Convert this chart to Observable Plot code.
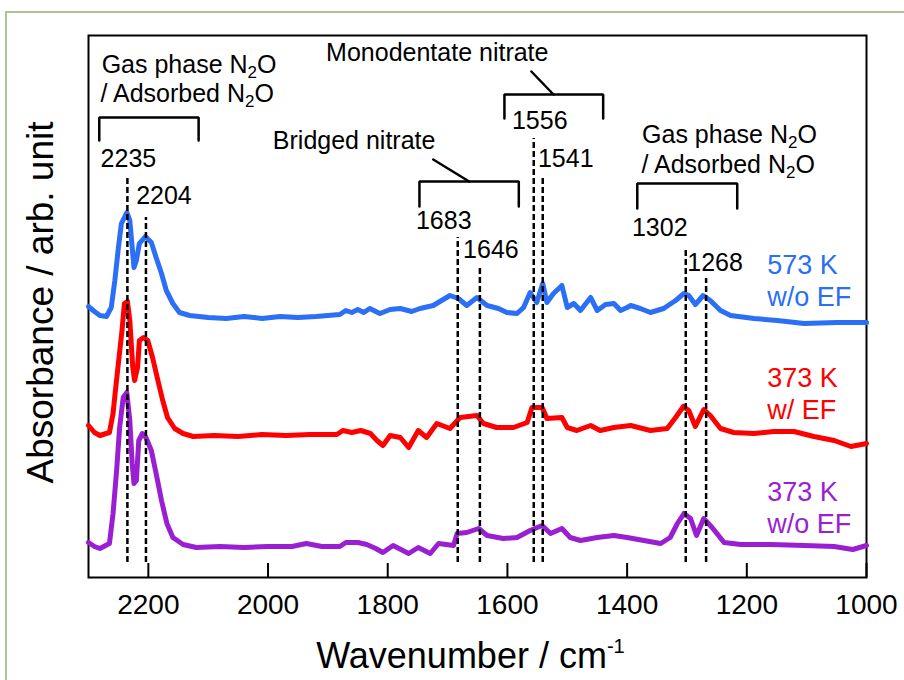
<!DOCTYPE html>
<html>
<head>
<meta charset="utf-8">
<script src="https://cdn.jsdelivr.net/npm/d3@7"></script>
<script src="https://cdn.jsdelivr.net/npm/@observablehq/plot@0.6"></script>
<style>
  body { margin: 0; background: #fff; }
  #wrap { position: relative; width: 904px; height: 680px; overflow: hidden; }
  #edge { position: absolute; left: 5px; top: 11px; right: -6px; bottom: -6px;
          border-top: 2px solid #a9c592; border-left: 2px solid #a9c592; }
  #wrap svg { position: absolute; left: 0; top: 0; }
</style>
</head>
<body>
<div id="wrap"><div id="edge"></div></div>
<script>
// ---- Spectra (wavenumber in cm-1, absorbance in arb. unit, stacked) ----
const wn573 = [2300,2290,2281,2270,2262,2256,2250,2245,2236,2231,2227,2224,2220,2215,2205,2195,2187,2178,2170,2159,2148,2131,2100,2070,2040,2010,1980,1950,1920,1900,1880,1870,1860,1850,1840,1830,1820,1813,1796,1779,1760,1746,1724,1710,1696,1682,1668,1651,1634,1615,1601,1584,1573,1562,1551,1541,1534,1523,1509,1500,1489,1478,1461,1450,1436,1422,1411,1400,1394,1378,1361,1339,1319,1305,1297,1286,1273,1261,1244,1227,1188,1149,1104,1049,1000];
const abs573 = [2.71,2.66,2.62,2.61,2.70,2.97,3.30,3.54,3.65,3.57,3.30,3.10,3.17,3.34,3.41,3.35,3.20,3.04,2.87,2.74,2.65,2.62,2.60,2.59,2.61,2.59,2.61,2.60,2.61,2.62,2.63,2.67,2.65,2.68,2.65,2.69,2.66,2.64,2.68,2.69,2.66,2.69,2.72,2.77,2.82,2.79,2.72,2.80,2.72,2.69,2.65,2.64,2.70,2.85,2.75,2.94,2.75,2.84,2.92,2.70,2.74,2.67,2.80,2.67,2.73,2.74,2.67,2.70,2.72,2.69,2.65,2.69,2.77,2.84,2.82,2.73,2.82,2.77,2.67,2.62,2.59,2.57,2.54,2.55,2.55];

const wn373EF = [2300,2290,2281,2265,2259,2255,2249,2244,2240,2235,2231,2226,2223,2218,2215,2208,2201,2193,2184,2176,2168,2156,2142,2125,2090,2050,2010,1970,1930,1885,1875,1860,1845,1829,1818,1808,1796,1779,1765,1749,1735,1718,1696,1679,1651,1640,1618,1590,1567,1559,1542,1534,1509,1500,1484,1461,1445,1422,1394,1361,1333,1319,1306,1297,1286,1272,1261,1244,1222,1188,1155,1121,1088,1054,1026,1000];
const abs373EF = [1.52,1.45,1.42,1.45,1.64,1.87,2.20,2.47,2.74,2.76,2.57,2.10,1.97,2.10,2.37,2.40,2.37,2.20,1.97,1.77,1.60,1.49,1.44,1.41,1.42,1.41,1.43,1.42,1.43,1.43,1.47,1.45,1.47,1.44,1.37,1.32,1.42,1.40,1.30,1.47,1.40,1.54,1.49,1.60,1.62,1.54,1.50,1.50,1.55,1.70,1.70,1.59,1.60,1.50,1.47,1.52,1.47,1.50,1.52,1.47,1.49,1.60,1.71,1.67,1.51,1.68,1.62,1.49,1.45,1.44,1.46,1.46,1.41,1.37,1.31,1.34];

const wn373 = [2300,2290,2281,2265,2259,2253,2248,2242,2236,2231,2227,2224,2220,2216,2210,2204,2195,2187,2178,2169,2159,2142,2120,2080,2040,2000,1960,1936,1910,1880,1870,1850,1835,1820,1808,1791,1765,1749,1729,1715,1690,1684,1668,1648,1634,1607,1584,1562,1542,1528,1509,1495,1478,1450,1422,1400,1372,1344,1328,1316,1305,1294,1284,1272,1258,1238,1210,1160,1104,1054,1023,1000];
const abs373 = [0.35,0.31,0.29,0.34,0.64,1.07,1.50,1.80,1.85,1.57,1.14,0.94,0.97,1.37,1.44,1.40,1.27,1.04,0.77,0.54,0.40,0.33,0.30,0.31,0.30,0.31,0.31,0.34,0.31,0.31,0.35,0.35,0.33,0.29,0.25,0.32,0.24,0.30,0.24,0.34,0.32,0.44,0.45,0.49,0.42,0.39,0.40,0.47,0.52,0.44,0.49,0.40,0.37,0.40,0.42,0.40,0.37,0.34,0.40,0.54,0.64,0.59,0.42,0.59,0.50,0.35,0.33,0.33,0.32,0.31,0.28,0.32];

const seriesNames = ["573 K\nw/o EF", "373 K\nw/ EF", "373 K\nw/o EF"];
const peakWn = [2235, 2204, 1683, 1646, 1556, 1541, 1302, 1268];
const xTicks = [2200, 2000, 1800, 1600, 1400, 1200, 1000];

// ---- Styling and annotation layout ----
const FONT = "Liberation Sans, Arial, Helvetica, sans-serif";
const colors = ["#2a6ff6", "#ff0000", "#9a1fd3"];
const series = [
  {name: seriesNames[0], wn: wn573, abs: abs573, color: colors[0], labelY: [3.04, 2.72]},
  {name: seriesNames[1], wn: wn373EF, abs: abs373EF, color: colors[1], labelY: [1.91, 1.59]},
  {name: seriesNames[2], wn: wn373, abs: abs373, color: colors[2], labelY: [0.77, 0.45]}
];
const rows = series.flatMap(s => s.wn.map((w, i) => ({series: s.name, wn: w, abs: s.abs[i]})));

// dashed peak markers: top end, label offset (px) and label baseline
const peakLayout = [
  {top: 4.00, dx: 1,   base: 4.11},
  {top: 3.60, dx: 18,  base: 3.74},
  {top: 3.40, dx: -14, base: 3.49},
  {top: 3.12, dx: 11,  base: 3.20},
  {top: 4.39, dx: 6,   base: 4.49},
  {top: 4.00, dx: 23,  base: 4.11},
  {top: 3.29, dx: -26, base: 3.42},
  {top: 2.99, dx: 9,   base: 3.07}
];
const peaks = peakWn.map((w, i) => ({wn: w, ...peakLayout[i]}));
const dashBottom = 0.15;

// band-assignment brackets [x1, x2, yTop, yBottom]
const brackets = [
  [2282, 2116, 4.60, 4.37],
  [1747, 1581, 3.96, 3.71],
  [1605, 1440, 4.83, 4.59],
  [1383, 1216, 3.94, 3.69]
];
const leaders = [
  [[1724, 4.18], [1664, 3.96]],
  [[1560, 5.06], [1523, 4.83]]
];
const notes = [
  {wn: 2278, y: 5.05, text: "Gas phase N₂O"},
  {wn: 2280, y: 4.76, text: "/ Adsorbed N₂O"},
  {wn: 1992, y: 4.29, text: "Bridged nitrate"},
  {wn: 1903, y: 5.17, text: "Monodentate nitrate"},
  {wn: 1375, y: 4.35, text: "Gas phase N₂O"},
  {wn: 1376, y: 4.05, text: "/ Adsorbed N₂O"}
];

const marks = [
  Plot.frame({stroke: "black", strokeWidth: 2}),
  Plot.tickX(xTicks, {x: d => d, stroke: "black", strokeWidth: 2, insetTop: 528}),
  Plot.axisX({ticks: xTicks, tickSize: 0, tickPadding: 17, fontSize: 28,
              tickFormat: d => String(d), label: null, fill: "black"}),
  Plot.text(["Wavenumber / cm⁻¹"], {frameAnchor: "bottom", dy: 90, dx: -7, lineAnchor: "bottom", fontSize: 36}),
  Plot.text(["Absorbance / arb. unit"], {frameAnchor: "left", rotate: -90, dx: -36, dy: -4,
      textAnchor: "middle", lineAnchor: "bottom", fontSize: 37}),
  ...series.map(s => Plot.line(rows.filter(r => r.series === s.name),
      {x: "wn", y: "abs", stroke: s.color, strokeWidth: 5, strokeLinejoin: "round"})),
  Plot.ruleX(peaks, {x: "wn", y1: dashBottom, y2: "top", stroke: "black", strokeWidth: 2.5, strokeDasharray: "6,3"}),
  ...peaks.map(p => Plot.text([p], {x: "wn", y: "base", text: d => String(d.wn), dx: p.dx,
      lineAnchor: "bottom", fontSize: 25, fill: "black"})),
  ...brackets.map(([a, b, t, btm]) => Plot.line([[a, btm], [a, t], [b, t], [b, btm]],
      {x: d => d[0], y: d => d[1], stroke: "black", strokeWidth: 2.5, strokeLinejoin: "miter"})),
  ...leaders.map(seg => Plot.line(seg, {x: d => d[0], y: d => d[1], stroke: "black", strokeWidth: 2.5})),
  Plot.text(notes, {x: "wn", y: "y", text: "text", textAnchor: "start", lineAnchor: "bottom", fontSize: 25, fill: "black"}),
  ...series.flatMap(s => s.name.split("\n").map((line, k) =>
      Plot.text([line], {x: 1166, y: s.labelY[k], text: d => d, textAnchor: "start",
        lineAnchor: "bottom", fontSize: 27, fill: s.color})))
];

const chart = Plot.plot({
  width: 904,
  height: 680,
  marginLeft: 88,
  marginRight: 38,
  marginTop: 35,
  marginBottom: 103,
  x: {domain: [2300, 1000], axis: null},
  y: {domain: [0, 5.42], axis: null},
  style: {fontFamily: FONT, background: "transparent", color: "black"},
  marks
});

document.getElementById("wrap").appendChild(chart);

// Subscript "₂" and superscript "⁻¹" drawn as shifted tspans
(function typeset(svg) {
  const NS = "http://www.w3.org/2000/svg";
  for (const t of svg.querySelectorAll("text")) {
    const s = t.textContent;
    if (!/[₂⁻¹]/.test(s)) continue;
    const fs = parseFloat(getComputedStyle(t).fontSize) || 25;
    while (t.firstChild) t.removeChild(t.firstChild);
    let shift = 0;
    for (const p of s.split(/(₂|⁻¹)/)) {
      if (!p) continue;
      const span = document.createElementNS(NS, "tspan");
      if (p === "₂") {
        const d = fs * 0.2;
        span.textContent = "2";
        span.setAttribute("font-size", fs * 0.68);
        span.setAttribute("dy", d - shift);
        shift = d;
      } else if (p === "⁻¹") {
        const d = -fs * 0.4;
        span.textContent = "-1";
        span.setAttribute("font-size", fs * 0.56);
        span.setAttribute("dy", d - shift);
        shift = d;
      } else {
        span.textContent = p;
        if (shift) span.setAttribute("dy", -shift);
        shift = 0;
      }
      t.appendChild(span);
    }
  }
})(chart);
</script>
</body>
</html>
